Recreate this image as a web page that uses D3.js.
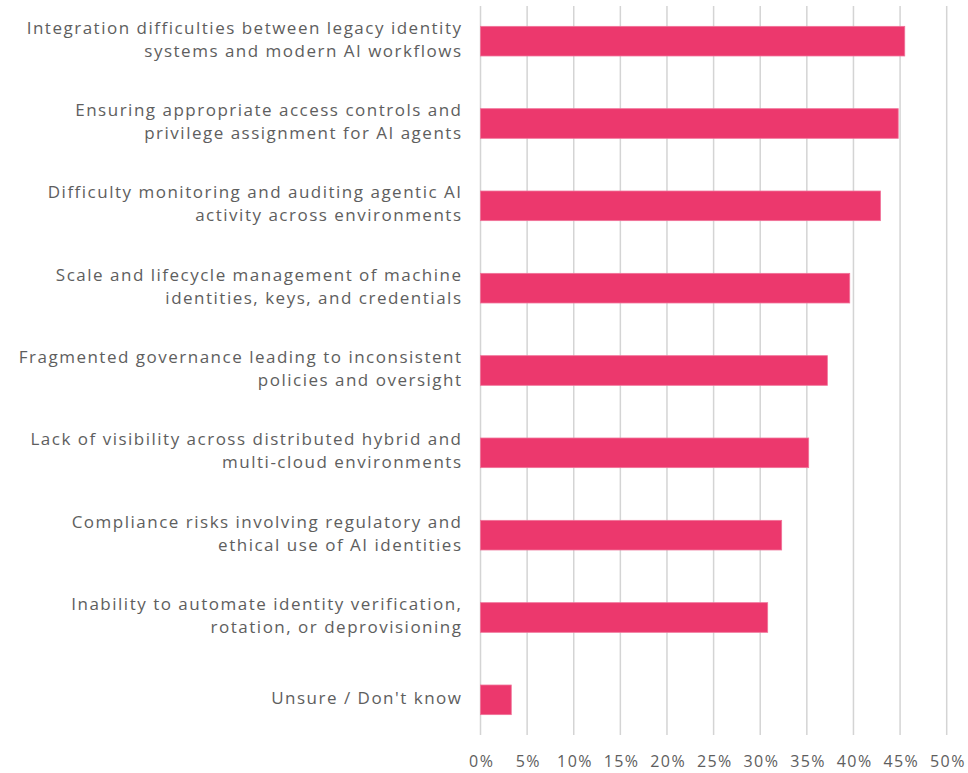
<!DOCTYPE html>
<html>
<head>
<meta charset="utf-8">
<script src="https://cdn.jsdelivr.net/npm/d3@7"></script>
<style>
  html, body { margin: 0; padding: 0; background: #fff; }
  svg text { font-family: "Open Sans", "DejaVu Sans", sans-serif; }
</style>
</head>
<body>
<svg id="chart" width="968" height="773"></svg>
<script>
// Survey categories (each entry is the wrapped label lines)
const categories = [
  ["Integration difficulties between legacy identity", "systems and modern AI workflows"],
  ["Ensuring appropriate access controls and", "privilege assignment for AI agents"],
  ["Difficulty monitoring and auditing agentic AI", "activity across environments"],
  ["Scale and lifecycle management of machine", "identities, keys, and credentials"],
  ["Fragmented governance leading to inconsistent", "policies and oversight"],
  ["Lack of visibility across distributed hybrid and", "multi-cloud environments"],
  ["Compliance risks involving regulatory and", "ethical use of AI identities"],
  ["Inability to automate identity verification,", "rotation, or deprovisioning"],
  ["Unsure / Don't know"]
];
// Share of respondents (%)
const values = [45.5, 44.8, 42.9, 39.6, 37.2, 35.2, 32.3, 30.8, 3.3];
const tickValues = [0, 5, 10, 15, 20, 25, 30, 35, 40, 45, 50];

const svg = d3.select("#chart");
const plotLeft = 480.5, plotRight = 946.7, plotTop = 0, plotBottom = 741;

const x = d3.scaleLinear().domain([0, 50]).range([plotLeft, plotRight]);
const y = d3.scaleBand().domain(d3.range(categories.length)).range([plotTop, plotBottom]).paddingInner(0.64).paddingOuter(0.32);

// vertical gridlines
svg.append("g").selectAll("line").data(tickValues).join("line")
  .attr("x1", d => x(d)).attr("x2", d => x(d))
  .attr("y1", 6).attr("y2", 735)
  .attr("stroke", "#d4d4d4").attr("stroke-width", 1.5);

// bars
svg.append("g").selectAll("rect").data(values).join("rect")
  .attr("x", x(0))
  .attr("y", (d, i) => y(i))
  .attr("width", d => x(d) - x(0))
  .attr("height", y.bandwidth())
  .attr("fill", "#ec386d")
  .attr("stroke", "#f07399").attr("stroke-width", 0.8);

// x axis tick labels
const xAxis = d3.axisBottom(x).tickValues(tickValues).tickFormat(d => d + "%").tickSize(0).tickPadding(0);
const gx = svg.append("g").attr("transform", "translate(0,756)").call(xAxis);
gx.select(".domain").remove();
gx.selectAll("text").attr("font-size", 16).attr("fill", "#5e5e5e")
  .attr("letter-spacing", 1.4).attr("dx", 0.7)
  .style("font-family", '"Open Sans", sans-serif');

// category labels, right aligned next to the bars
const lab = svg.append("g").selectAll("text").data(categories).join("text")
  .attr("text-anchor", "end")
  .attr("font-size", 17)
  .attr("letter-spacing", 1.5)
  .attr("fill", "#5e5e5e")
  .attr("transform", (d, i) => `translate(462.5,${y(i) + y.bandwidth() / 2})`);
lab.each(function(lines) {
  const n = lines.length, lh = 23;
  d3.select(this).selectAll("tspan").data(lines).join("tspan")
    .attr("x", 0)
    .attr("y", (d, j) => (j - (n - 1) / 2) * lh - 2)
    .attr("dy", "0.35em")
    .text(d => d);
});
</script>
</body>
</html>
